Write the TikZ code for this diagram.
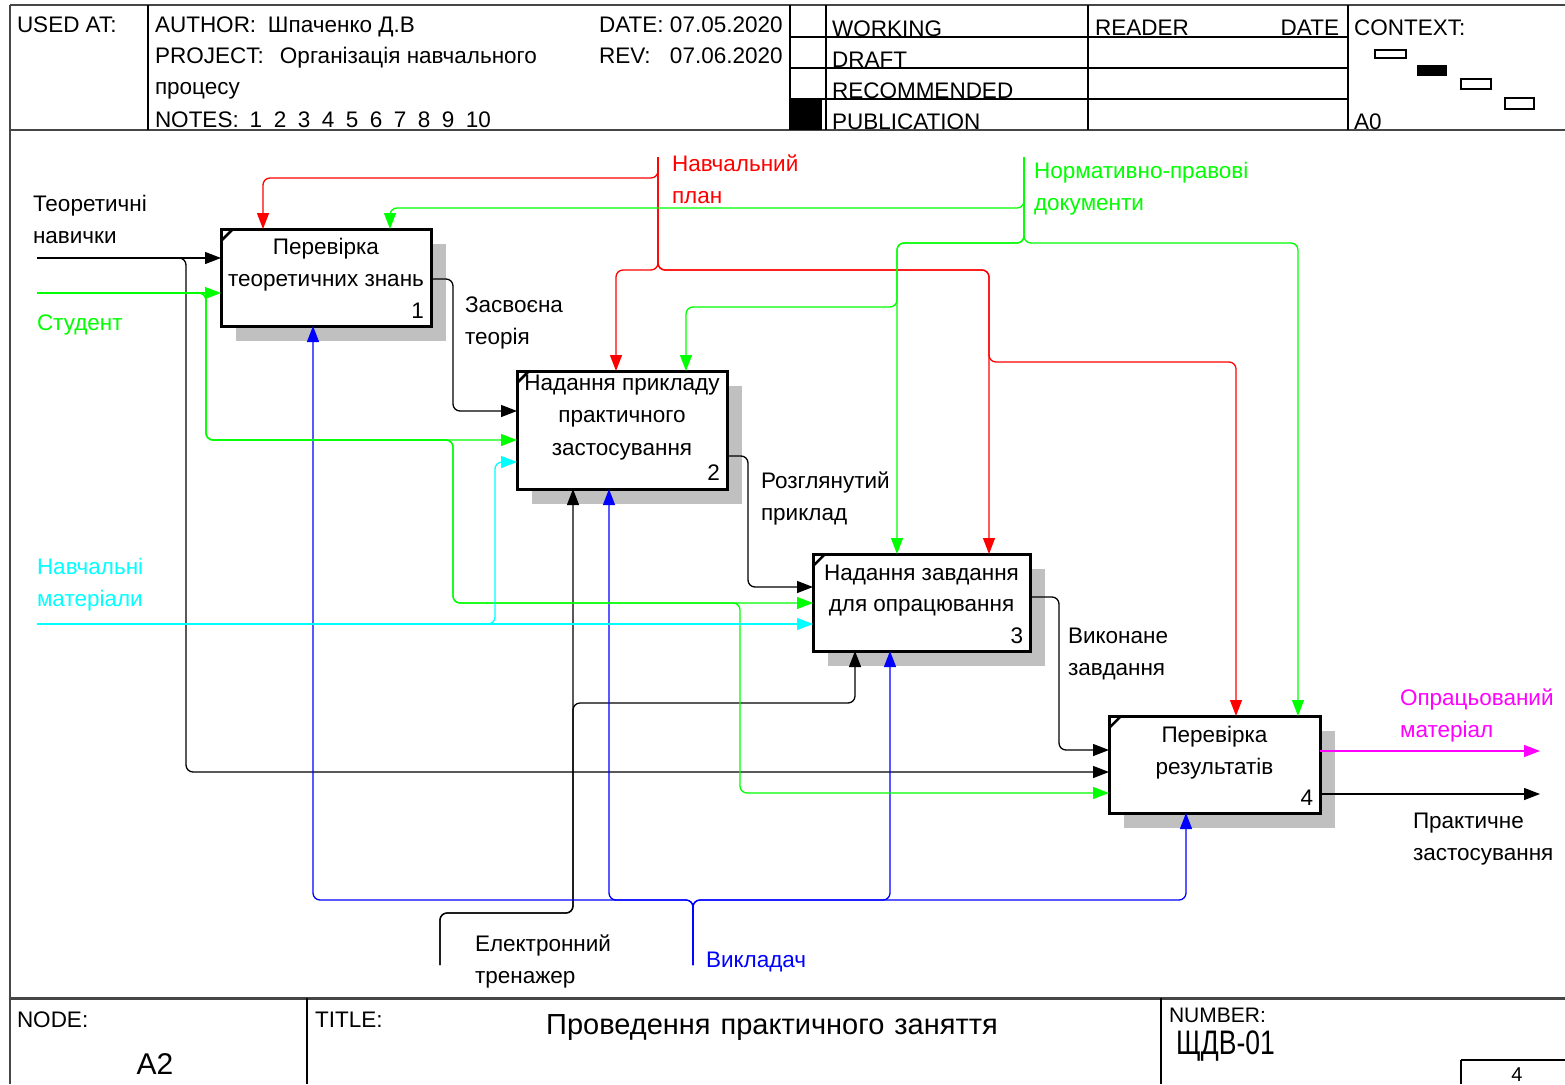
\documentclass[tikz,border=0pt]{standalone}
\usepackage{fontspec}
\setmainfont{Liberation Sans}
\newfontfamily\narrowfont{Liberation Sans}[FakeStretch=0.78]
\usetikzlibrary{arrows.meta,shadows}

\definecolor{idefred}{RGB}{255,0,0}
\definecolor{idefgreen}{RGB}{0,255,0}
\definecolor{idefcyan}{RGB}{0,255,255}
\definecolor{idefblue}{RGB}{0,0,255}
\definecolor{idefmagenta}{RGB}{255,0,255}
\definecolor{framegray}{RGB}{70,70,70}
\definecolor{shadowgray}{RGB}{192,192,192}

\begin{document}
\begin{tikzpicture}[x=1pt,y=-1pt,
  every node/.style={inner sep=0pt,outer sep=0pt,font=\fontsize{22.5}{32}\selectfont},
  txt/.style={anchor=base west},
  ctxt/.style={anchor=base},
  rtxt/.style={anchor=base east},
  frame/.style={line width=2pt,draw=framegray},
  rule/.style={line width=1.3pt},
  fnbox/.style={draw,line width=3pt,fill=white,anchor=north west,
    drop shadow={shadow xshift=15pt,shadow yshift=-15pt,fill=shadowgray,opacity=1}},
  conn/.style={line width=1.3pt,rounded corners=7pt},
  arr/.style={conn,-{Triangle[length=16pt,width=12pt]}},
]
\useasboundingbox (0,0) rectangle (1565,1084);

% ---------- sheet frame ----------
\draw[frame] (10,5) -- (1565,5);
\draw[frame] (10,5) -- (10,1084);
\draw[frame] (10,130) -- (1565,130);
\draw[frame,line width=3pt] (10,998) -- (1565,998);

% header dividers
\draw[rule] (148,5) -- (148,130);
\draw[rule] (790,5) -- (790,130);
\draw[rule] (826,5) -- (826,130);
\draw[rule] (1088,5) -- (1088,130);
\draw[rule] (1348,5) -- (1348,130);
\foreach \y in {37,68,99} \draw[rule] (790,\y) -- (1348,\y);
\fill (790,99) rectangle (822,130);

% header texts
\node[txt] (usedat) at (17,32) {USED AT:};
\node[txt] (author) at (155,32) {\makebox[113pt][l]{AUTHOR:}Шпаченко Д.В};
\node[txt] (project) at (155,63) {\makebox[125pt][l]{PROJECT:}Організація навчального};
\node[txt] (project2) at (155,94) {процесу};
\node[txt] (notes) at (155,127) {NOTES:\hspace{11pt}1\hspace{11.5pt}2\hspace{11.5pt}3\hspace{11.5pt}4\hspace{11.5pt}5\hspace{11.5pt}6\hspace{11.5pt}7\hspace{11.5pt}8\hspace{11.5pt}9\hspace{11.5pt}10};
\node[txt] (date) at (599,32) {\makebox[71pt][l]{DATE:}07.05.2020};
\node[txt] (rev) at (599,63) {\makebox[71pt][l]{REV:}07.06.2020};
\node[txt] (working) at (832,36) {WORKING};
\node[txt] (draft) at (832,67) {DRAFT};
\node[txt] (recommended) at (832,98) {RECOMMENDED};
\node[txt] (publication) at (832,129) {PUBLICATION};
\node[txt] (reader) at (1095,35) {READER};
\node[rtxt] (rdate) at (1339,35) {DATE};
\node[txt] (context) at (1354,35) {CONTEXT:};
\node[txt] (ctxnode) at (1354,129) {A0};

% context map
\draw[line width=1.2pt] (1375,50) rectangle (1406,58);
\fill (1417,65) rectangle (1447,76);
\draw[line width=1.2pt] (1461,79) rectangle (1491,89);
\draw[line width=1.2pt] (1505,98) rectangle (1534,109);

% footer
\draw[rule] (307,998) -- (307,1084);
\draw[rule] (1161,998) -- (1161,1084);
\draw[rule] (1461,1060) -- (1565,1060);
\draw[rule] (1461,1060) -- (1461,1084);
\node[txt] (nodelbl) at (17,1027) {NODE:};
\node[ctxt,font=\fontsize{30}{34}\selectfont] (nodeid) at (155,1074) {A2};
\node[txt] (titlelbl) at (315,1027) {TITLE:};
\node[ctxt,font=\fontsize{29}{34}\selectfont] (title) at (772,1034) {Проведення\hspace{10pt}практичного\hspace{10pt}заняття};
\node[txt,font=\fontsize{21}{24}\selectfont] (numberlbl) at (1169,1022) {NUMBER:};
\node[txt,font=\narrowfont\fontsize{34}{38}\selectfont] (number) at (1176,1054) {ЩДВ-01};
\node[ctxt,font=\fontsize{20}{24}\selectfont] (page) at (1517,1081) {4};

% ---------- activity boxes ----------
\node[fnbox,minimum width=210pt,minimum height=97pt] (b1) at (221,229) {};
\node[fnbox,minimum width=210pt,minimum height=118pt] (b2) at (517,371) {};
\node[fnbox,minimum width=217pt,minimum height=97pt] (b3) at (813,554) {};
\node[fnbox,minimum width=211pt,minimum height=97pt] (b4) at (1109,716) {};
\foreach \b in {b1,b2,b3,b4}
  \draw[line width=2.5pt] ([yshift=-12pt]\b.north west) -- ([xshift=12pt]\b.north west);

\node[ctxt] (b1l1) at (b1.north |- 0,254) {Перевірка};
\node[ctxt] (b1l2) at (b1.north |- 0,286) {теоретичних знань};
\node[rtxt] (b1n) at ([xshift=-7pt]b1.east |- 0,318) {1};
\node[ctxt] (b2l1) at (b2.north |- 0,390) {Надання прикладу};
\node[ctxt] (b2l2) at (b2.north |- 0,422) {практичного};
\node[ctxt] (b2l3) at (b2.north |- 0,455) {застосування};
\node[rtxt] (b2n) at ([xshift=-7pt]b2.east |- 0,480) {2};
\node[ctxt] (b3l1) at (b3.north |- 0,580) {Надання завдання};
\node[ctxt] (b3l2) at (b3.north |- 0,611) {для опрацювання};
\node[rtxt] (b3n) at ([xshift=-7pt]b3.east |- 0,643) {3};
\node[ctxt] (b4l1) at (b4.north |- 0,742) {Перевірка};
\node[ctxt] (b4l2) at (b4.north |- 0,774) {результатів};
\node[rtxt] (b4n) at ([xshift=-7pt]b4.east |- 0,805) {4};

% ---------- free ends of boundary arrows ----------
\coordinate (tnIn) at (37,258);
\coordinate (stIn) at (37,293);
\coordinate (nmIn) at (37,624);
\coordinate (npIn) at (658,157);
\coordinate (nzIn) at (1024,157);
\coordinate (etIn) at (440,965);
\coordinate (vkIn) at (693,965);
\coordinate (opOut) at (1540,751);
\coordinate (prOut) at (1540,794);

% ---------- black flows ----------
\draw[arr] (tnIn) -- (b1.west |- tnIn);
\draw[arr] (tnIn) -- (186,258) -- (186,772) -- (b4.west |- 0,772);
\draw[arr] (b1.east |- 0,279) -- (453,279) -- (453,411) -- (b2.west |- 0,411);
\draw[arr] (b2.east |- 0,456) -- (748,456) -- (748,587) -- (b3.west |- 0,587);
\draw[arr] (b3.east |- 0,597) -- (1059,597) -- (1059,750) -- (b4.west |- 0,750);
\draw[arr] (b4.east |- prOut) -- (prOut);
\draw[arr,idefmagenta] (b4.east |- opOut) -- (opOut);
\draw[arr] (etIn) -- (440,913) -- (573,913) -- (b2.south -| 573,0);
\draw[arr] (etIn) -- (440,913) -- (573,913) -- (573,703) -- (855,703) -- (b3.south -| 855,0);

% ---------- teacher (mechanism) ----------
\foreach \x/\b in {313/b1,609/b2,890/b3,1186/b4}
  \draw[arr,idefblue] (vkIn) -- (693,900) -- (\x,900) -- (\b.south -| \x,0);

% ---------- student (input) ----------
\draw[arr,idefgreen] (stIn) -- (b1.west |- stIn);
\draw[arr,idefgreen] (stIn) -- (206,293) -- (206,440) -- (b2.west |- 0,440);
\draw[arr,idefgreen] (stIn) -- (206,293) -- (206,440) -- (453,440) -- (453,603) -- (b3.west |- 0,603);
\draw[arr,idefgreen] (stIn) -- (206,293) -- (206,440) -- (453,440) -- (453,603) -- (740,603) -- (740,793) -- (b4.west |- 0,793);

% ---------- learning materials (input) ----------
\draw[arr,idefcyan] (nmIn) -- (b3.west |- nmIn);
\draw[arr,idefcyan] (nmIn) -- (495,624) -- (495,462) -- (b2.west |- 0,462);

% ---------- curriculum (control) ----------
\draw[arr,idefred] (npIn) -- (658,178) -- (263,178) -- (b1.north -| 263,0);
\draw[arr,idefred] (npIn) -- (658,270) -- (616,270) -- (b2.north -| 616,0);
\draw[arr,idefred] (npIn) -- (658,270) -- (989,270) -- (b3.north -| 989,0);
\draw[arr,idefred] (npIn) -- (658,270) -- (989,270) -- (989,362) -- (1236,362) -- (b4.north -| 1236,0);

% ---------- regulations (control) ----------
\draw[arr,idefgreen] (nzIn) -- (1024,208) -- (390,208) -- (b1.north -| 390,0);
\draw[arr,idefgreen] (nzIn) -- (1024,243) -- (897,243) -- (b3.north -| 897,0);
\draw[arr,idefgreen] (nzIn) -- (1024,243) -- (897,243) -- (897,307) -- (686,307) -- (b2.north -| 686,0);
\draw[arr,idefgreen] (nzIn) -- (1024,243) -- (1298,243) -- (b4.north -| 1298,0);

% ---------- arrow labels ----------
\node[txt] (tn1) at (33,211) {Теоретичні};
\node[txt] (tn2) at (33,243) {навички};
\node[txt,idefgreen] (st1) at (37,330) {Студент};
\node[txt,idefcyan] (nm1) at (37,574) {Навчальні};
\node[txt,idefcyan] (nm2) at (37,606) {матеріали};
\node[txt,idefred] (np1) at (672,171) {Навчальний};
\node[txt,idefred] (np2) at (672,203) {план};
\node[txt,idefgreen] (nz1) at (1034,178) {Нормативно-правові};
\node[txt,idefgreen] (nz2) at (1034,210) {документи};
\node[txt] (zt1) at (465,312) {Засвоєна};
\node[txt] (zt2) at (465,344) {теорія};
\node[txt] (rp1) at (761,488) {Розглянутий};
\node[txt] (rp2) at (761,520) {приклад};
\node[txt] (vz1) at (1068,643) {Виконане};
\node[txt] (vz2) at (1068,675) {завдання};
\node[txt,idefmagenta] (om1) at (1400,705) {Опрацьований};
\node[txt,idefmagenta] (om2) at (1400,737) {матеріал};
\node[txt] (pz1) at (1413,828) {Практичне};
\node[txt] (pz2) at (1413,860) {застосування};
\node[txt] (et1) at (475,951) {Електронний};
\node[txt] (et2) at (475,983) {тренажер};
\node[txt,idefblue] (vk1) at (706,967) {Викладач};
\end{tikzpicture}
\end{document}
